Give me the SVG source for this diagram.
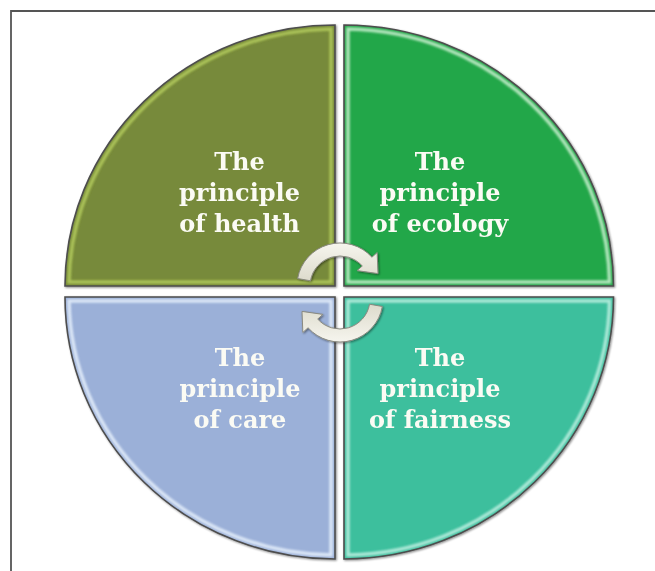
<svg xmlns="http://www.w3.org/2000/svg" width="655" height="571" viewBox="0 0 655 571">
  <style>
    .edge { fill: none; stroke: #4d4d4d; stroke-width: 1.6; }
    .shine { fill: none; stroke-width: 3.5; filter: url(#soft); }
    .label { font-family: "DejaVu Serif", "Liberation Serif", serif; font-weight: bold; font-size: 24px; fill: #fbfbf4; text-anchor: middle; }
    .cyc { fill: url(#arrowFill); stroke: #8a8a80; stroke-width: 1; }
  </style>
  <defs>
    <filter id="soft" x="-10%" y="-10%" width="120%" height="120%">
      <feGaussianBlur stdDeviation="0.9"/>
    </filter>
    <filter id="drop" x="-10%" y="-10%" width="120%" height="120%">
      <feGaussianBlur in="SourceAlpha" stdDeviation="1.2"/>
      <feOffset dx="0.5" dy="1" result="b"/>
      <feComponentTransfer><feFuncA type="linear" slope="0.45"/></feComponentTransfer>
      <feMerge><feMergeNode/><feMergeNode in="SourceGraphic"/></feMerge>
    </filter>
    <linearGradient id="arrowFill" x1="0" y1="0" x2="0" y2="1">
      <stop offset="0" stop-color="#f6f5ee"/>
      <stop offset="1" stop-color="#dddbcc"/>
    </linearGradient>
    <path id="q-tl" d="M335,286 L65,286 A270,261 0 0 1 335,25 Z"/>
    <path id="q-tr" d="M344,286 L344,25 A269.5,261 0 0 1 613.5,286 Z"/>
    <path id="q-bl" d="M335,297 L335,559 A270,262 0 0 1 65,297 Z"/>
    <path id="q-br" d="M344,297 L613.5,297 A269.5,262 0 0 1 344,559 Z"/>
    <clipPath id="c-tl"><use href="#q-tl"/></clipPath>
    <clipPath id="c-tr"><use href="#q-tr"/></clipPath>
    <clipPath id="c-bl"><use href="#q-bl"/></clipPath>
    <clipPath id="c-br"><use href="#q-br"/></clipPath>
    <!-- curved arrow, arc centred on (340,286) -->
    <path id="cycle-arrow" d="M297.65,278.53 A43,43 0 0 1 371.95,257.23 L377.15,252.55 L378,273.6 L357.09,270.61 L362.3,265.93 A30,30 0 0 0 310.46,280.79 Z"/>
  </defs>

  <!-- frame -->
  <path d="M11,571 L11,11 L655,11" fill="none" stroke="#555" stroke-width="1.8"/>

  <g id="health" filter="url(#drop)">
    <use href="#q-tl" fill="#778a3a"/>
    <g clip-path="url(#c-tl)">
      <path class="shine" stroke="#b8d060" opacity="0.8" d="M331,282 L69,282 A266,257 0 0 1 331,29 Z"/>
    </g>
    <use href="#q-tl" class="edge"/>
    <text class="label" x="239.5" y="170">The</text>
    <text class="label" x="239.5" y="201">principle</text>
    <text class="label" x="239.5" y="232">of health</text>
  </g>

  <g id="ecology" filter="url(#drop)">
    <use href="#q-tr" fill="#24a74a"/>
    <g clip-path="url(#c-tr)">
      <path class="shine" stroke="#d4f5d8" opacity="0.8" d="M348,282 L348,29 A265.5,257 0 0 1 609.5,282 Z"/>
    </g>
    <use href="#q-tr" class="edge"/>
    <text class="label" x="440" y="170">The</text>
    <text class="label" x="440" y="201">principle</text>
    <text class="label" x="440" y="232">of ecology</text>
  </g>

  <g id="care" filter="url(#drop)">
    <use href="#q-bl" fill="#9bb0d8"/>
    <g clip-path="url(#c-bl)">
      <path class="shine" stroke="#e6f0fc" opacity="0.85" d="M331,301 L331,555 A266,258 0 0 1 69,301 Z"/>
    </g>
    <use href="#q-bl" class="edge"/>
    <text class="label" x="240" y="366">The</text>
    <text class="label" x="240" y="397">principle</text>
    <text class="label" x="240" y="428">of care</text>
  </g>

  <g id="fairness" filter="url(#drop)">
    <use href="#q-br" fill="#3cbf9d"/>
    <g clip-path="url(#c-br)">
      <path class="shine" stroke="#c8f3e6" opacity="0.8" d="M348,301 L609.5,301 A265.5,258 0 0 1 348,555 Z"/>
    </g>
    <use href="#q-br" class="edge"/>
    <text class="label" x="440" y="366">The</text>
    <text class="label" x="440" y="397">principle</text>
    <text class="label" x="440" y="428">of fairness</text>
  </g>

  <!-- cycle arrows -->
  <g id="connectors" filter="url(#drop)">
    <use id="arc-top" href="#cycle-arrow" class="cyc"/>
    <use id="arc-bottom" href="#cycle-arrow" class="cyc" transform="rotate(180 340 292.5)"/>
  </g>
</svg>
